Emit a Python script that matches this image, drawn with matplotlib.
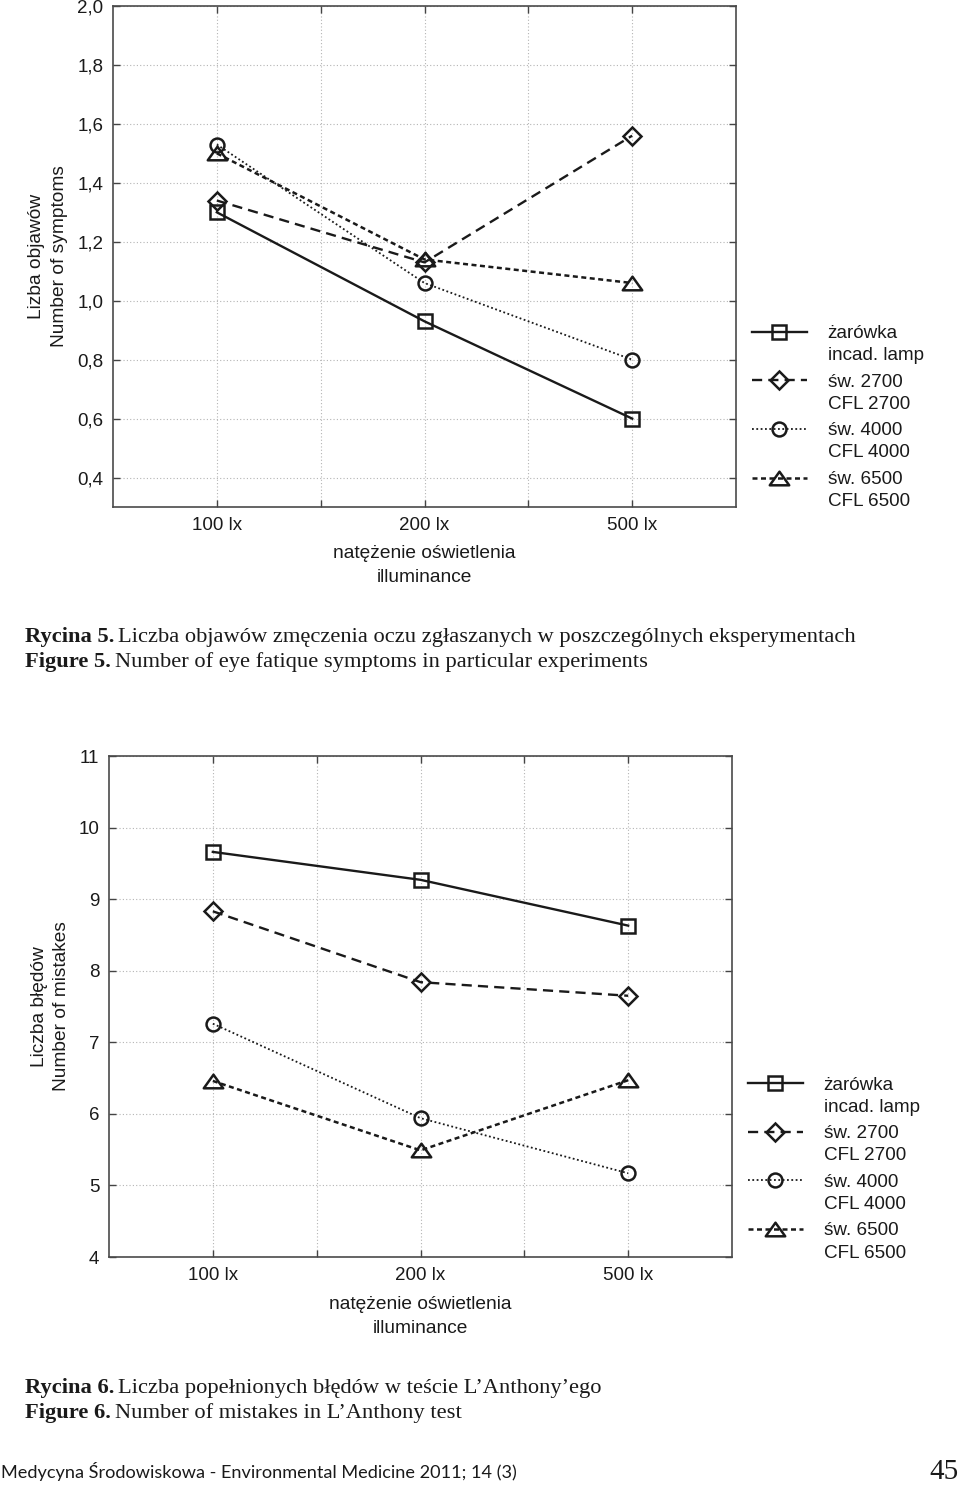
import matplotlib
matplotlib.use("Agg")
import matplotlib.pyplot as plt
from matplotlib.path import Path

# ---------------- data ----------------
categories = ["100 lx", "200 lx", "500 lx"]
series_labels = ["żarówka\nincad. lamp", "św. 2700\nCFL 2700",
                 "św. 4000\nCFL 4000", "św. 6500\nCFL 6500"]

# Figure 5 - number of eye fatigue symptoms
symptoms_incad = [1.30, 0.93, 0.60]
symptoms_cfl2700 = [1.34, 1.13, 1.56]
symptoms_cfl4000 = [1.53, 1.06, 0.80]
symptoms_cfl6500 = [1.50, 1.14, 1.06]

# Figure 6 - number of mistakes
mistakes_incad = [9.66, 9.27, 8.63]
mistakes_cfl2700 = [8.83, 7.84, 7.65]
mistakes_cfl4000 = [7.26, 5.94, 5.17]
mistakes_cfl6500 = [6.46, 5.49, 6.47]

top_yticks = [0.4, 0.6, 0.8, 1.0, 1.2, 1.4, 1.6, 1.8, 2.0]
top_yticklabels = ["0,4", "0,6", "0,8", "1,0", "1,2", "1,4", "1,6", "1,8", "2,0"]
bottom_yticks = [4, 5, 6, 7, 8, 9, 10, 11]
bottom_yticklabels = ["4", "5", "6", "7", "8", "9", "10", "11"]

# ---------------- style ----------------
SANS = ["Liberation Sans", "DejaVu Sans"]
SERIF = ["Liberation Serif", "DejaVu Serif"]
plt.rcParams["font.family"] = SANS

INK = "#1a1a1a"
tri = Path([(-1, -0.7), (1, -0.7), (0, 0.7), (-1, -0.7)], closed=True)
styles = [
    dict(marker="s", ls="-", lw=1.7, ms=9.7),
    dict(marker="D", ls=(0, (4.3, 2.6)), lw=1.7, ms=9.0),
    dict(marker="o", ls=(0, (1, 1.4)), lw=1.3, ms=10),
    dict(marker=tri, ls=(0, (2.0, 1.4)), lw=1.8, ms=14),
]

W, H = 960, 1485
fig = plt.figure(figsize=(W / 100, H / 100), dpi=100)


def px_axes(left, top, right, bottom):
    return fig.add_axes([left / W, 1 - bottom / H, (right - left) / W, (bottom - top) / H])


def setup(ax, yticks, yticklabels, ylim):
    ax.set_xlim(-0.5, 2.5)
    ax.set_ylim(*ylim)
    ax.set_xticks(range(len(categories)))
    ax.set_xticklabels(categories)
    ax.set_xticks([0.5, 1.5], minor=True)
    ax.set_yticks(yticks)
    ax.set_yticklabels(yticklabels)
    gkw = dict(color="#b4b4b4", lw=0.8, ls=(0, (1, 2)))
    ax.grid(True, which="both", axis="x", **gkw)
    ax.grid(True, which="major", axis="y", **gkw)
    ax.set_axisbelow(True)
    ax.tick_params(which="both", direction="in", top=True, right=True,
                   length=5, width=1, color="#444444", labelsize=13.5,
                   labelcolor=INK, pad=7)
    for s in ax.spines.values():
        s.set_color("#4a4a4a")
        s.set_linewidth(1.2)


def draw(ax, series, ylabel, label_x, xlabel_y, leg_anchor):
    handles = []
    for vals, st in zip(series, styles):
        ln, = ax.plot(range(len(categories)), vals, color=INK, mfc="none",
                      mec=INK, mew=1.8, marker=st["marker"], ls=st["ls"],
                      lw=st["lw"], ms=st["ms"], clip_on=False)
        handles.append(ln)
    leg = ax.legend(handles, series_labels, loc="upper left",
                    bbox_to_anchor=(leg_anchor[0] / W, 1 - leg_anchor[1] / H),
                    bbox_transform=fig.transFigure, frameon=False,
                    handlelength=2.9, handletextpad=1.1,
                    labelspacing=0.5, borderpad=0, borderaxespad=0,
                    numpoints=1, prop={"family": SANS, "size": 13.6})
    for t in leg.get_texts():
        t.set_linespacing(1.4)
        t.set_color(INK)
    for col in leg._legend_handle_box.get_children():
        for item in col.get_children():
            item.align = "top"
    bb = ax.get_position()
    fig.text(label_x / W, bb.y0 + bb.height / 2, ylabel, rotation=90,
             ha="center", va="center", fontsize=13.8, color=INK,
             linespacing=1.45, family=SANS)
    fig.text((bb.x0 + bb.width / 2), 1 - xlabel_y / H,
             "natężenie oświetlenia\nilluminance", ha="center", va="center",
             fontsize=13.8, color=INK, linespacing=1.55, family=SANS)


# ---------------- Figure 5 ----------------
ax1 = px_axes(113, 6, 736, 507)
setup(ax1, top_yticks, top_yticklabels, (0.30, 2.0))
draw(ax1, [symptoms_incad, symptoms_cfl2700, symptoms_cfl4000, symptoms_cfl6500],
     "Lizba objawów\nNumber of symptoms", 48, 565.5, (752, 325))

# ---------------- Figure 6 ----------------
ax2 = px_axes(109, 756, 732, 1257)
setup(ax2, bottom_yticks, bottom_yticklabels, (4, 11))
draw(ax2, [mistakes_incad, mistakes_cfl2700, mistakes_cfl4000, mistakes_cfl6500],
     "Liczba błędów\nNumber of mistakes", 50.5, 1316.5, (748, 1076.5))

# ---------------- captions ----------------
def caption(y, bold, rest):
    t = fig.text(25 / W, 1 - y / H, bold, fontsize=16.2, family=SERIF,
                 weight="bold", color=INK, va="baseline", ha="left")
    fig.canvas.draw()
    bb = t.get_window_extent()
    fig.text(bb.x1 / W + 4 / W, 1 - y / H, rest, fontsize=16.2, family=SERIF,
             color=INK, va="baseline", ha="left")


caption(642, "Rycina 5.", "Liczba objawów zmęczenia oczu zgłaszanych w poszczególnych eksperymentach")
caption(667, "Figure 5.", "Number of eye fatique symptoms in particular experiments")
caption(1393, "Rycina 6.", "Liczba popełnionych błędów w teście L’Anthony’ego")
caption(1418, "Figure 6.", "Number of mistakes in L’Anthony test")

fig.text(1 / W, 1 - 1478 / H,
         "Medycyna Środowiskowa - Environmental Medicine 2011; 14 (3)",
         fontsize=13.1, family=["Lato", "DejaVu Sans"], color=INK,
         va="baseline", ha="left")
fig.text(959 / W, 1 - 1479 / H, "45", fontsize=21, family=SERIF, color=INK,
         va="baseline", ha="right")

fig.savefig("out.png", dpi=100, facecolor="white")
